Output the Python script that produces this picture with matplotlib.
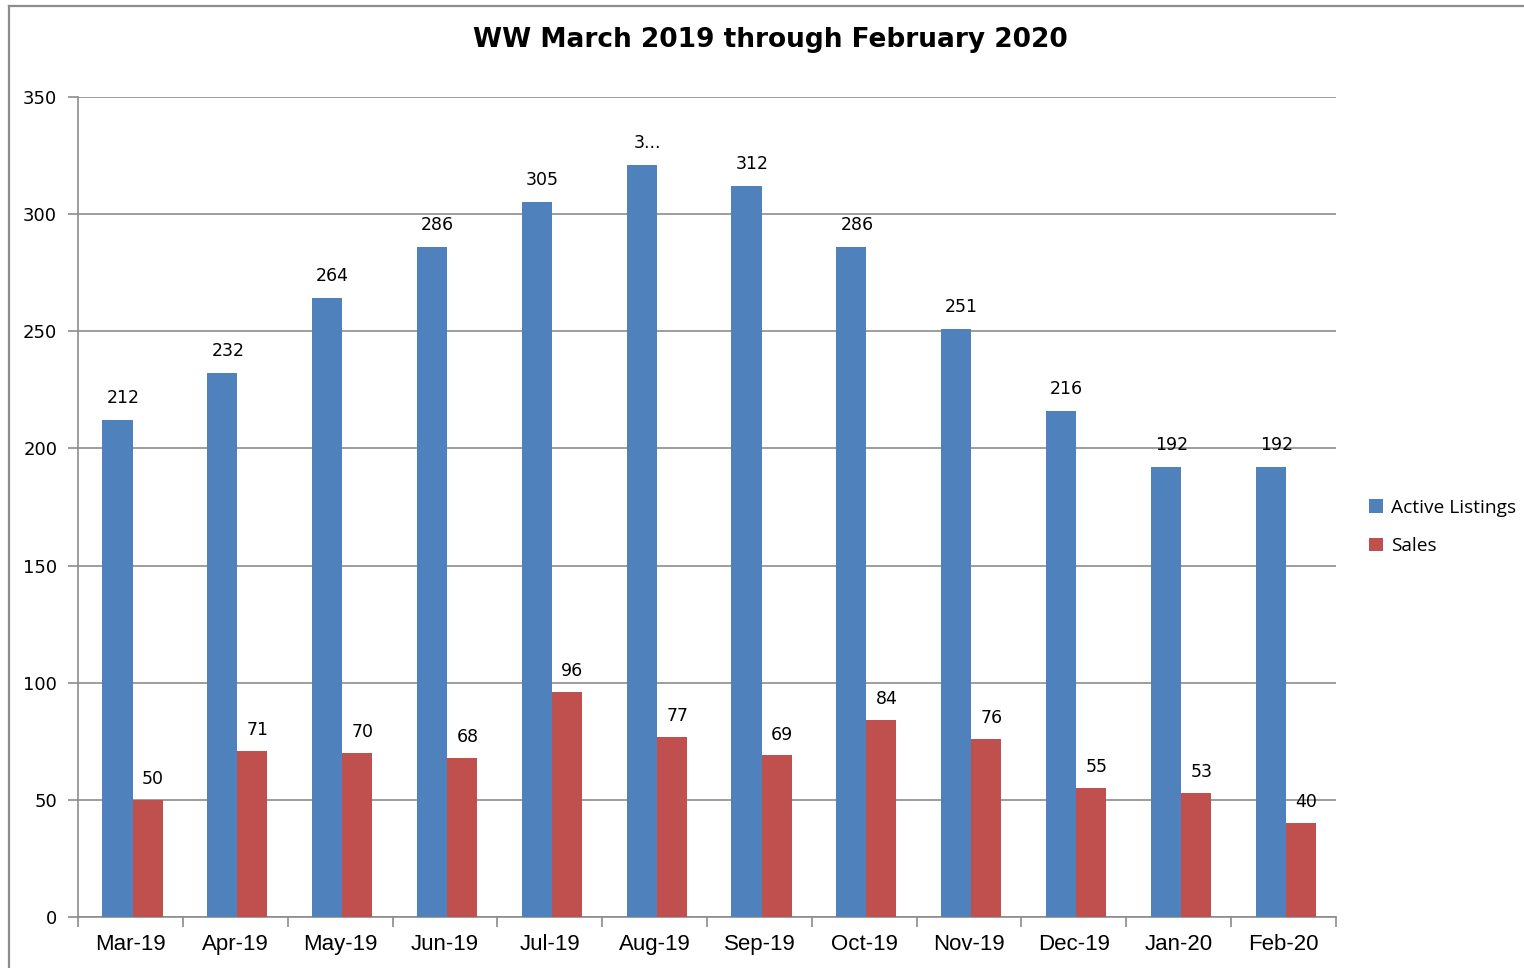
import matplotlib.pyplot as plt
import numpy as np
from matplotlib.lines import Line2D

# Дані
months = ['Mar-19', 'Apr-19', 'May-19', 'Jun-19', 'Jul-19', 'Aug-19',
          'Sep-19', 'Oct-19', 'Nov-19', 'Dec-19', 'Jan-20', 'Feb-20']
active = [212, 232, 264, 286, 305, 321, 312, 286, 251, 216, 192, 192]
sales = [50, 71, 70, 68, 96, 77, 69, 84, 76, 55, 53, 40]
active_labels = ['212', '232', '264', '286', '305', '3...', '312', '286', '251', '216', '192', '192']

blue = '#4F81BD'
red = '#C0504D'
grid_col = '#8C8C8C'

fig = plt.figure(figsize=(15.24, 9.68), dpi=100)
ax = fig.add_axes([78 / 1524, 1 - 917 / 968, (1336 - 78) / 1524, (917 - 97) / 968])

x = np.arange(len(months))
w = 0.287
shift = 0.02
ax.bar(x + shift - w / 2, active, w, color=blue, label='Active Listings', zorder=3)
ax.bar(x + shift + w / 2, sales, w, color=red, label='Sales', zorder=3)

# Підписи значень
for xi, v, lab in zip(x, active, active_labels):
    ax.annotate(lab, (xi + shift - w / 2, v), xytext=(4, 16), textcoords='offset points',
                ha='center', va='center', fontsize=12.5, family='DejaVu Sans')
for xi, v in zip(x, sales):
    ax.annotate(str(v), (xi + shift + w / 2, v), xytext=(4, 15), textcoords='offset points',
                ha='center', va='center', fontsize=12.5, family='DejaVu Sans')

ax.set_xlim(-0.5, len(months) - 0.5)
ax.set_ylim(0, 350)
ax.set_yticks(range(0, 351, 50))
ax.yaxis.grid(True, color=grid_col, linewidth=1.2, zorder=0)
ax.set_axisbelow(True)

ax.set_xticks(x)
ax.set_xticklabels(months, family='Liberation Sans', fontsize=16)
ax.set_xticks(np.arange(-0.5, len(months)), minor=True)
ax.tick_params(axis='x', which='major', length=0, pad=12)
ax.tick_params(axis='x', which='minor', length=7, width=1.2, color=grid_col, direction='out')
ax.tick_params(axis='y', length=7, width=1.2, color=grid_col, labelsize=13, pad=8)
for lab in ax.get_yticklabels():
    lab.set_family('DejaVu Sans')

for s in ['top', 'right']:
    ax.spines[s].set_visible(False)
for s in ['left', 'bottom']:
    ax.spines[s].set_color(grid_col)
    ax.spines[s].set_linewidth(1.2)

fig.text(770 / 1524, 1 - 40 / 968, 'WW March 2019 through February 2020',
         ha='center', va='center', fontsize=19, fontweight='bold', family='DejaVu Sans')

ax.legend(loc='center left', bbox_to_anchor=(1369 / 1524, 1 - 527 / 968),
          bbox_transform=fig.transFigure, frameon=False, borderpad=0, borderaxespad=0,
          handlelength=0.72, handleheight=0.72, handletextpad=0.45, labelspacing=1.05,
          prop={'family': 'Open Sans', 'size': 13.8})

# Рамка діаграми
fig.add_artist(Line2D([9 / 1524, 9 / 1524], [0, 1 - 6 / 968], color=grid_col, linewidth=1.6,
                      transform=fig.transFigure))
fig.add_artist(Line2D([9 / 1524, 1], [1 - 6 / 968, 1 - 6 / 968], color=grid_col, linewidth=1.6,
                      transform=fig.transFigure))

fig.savefig('out.png', dpi=100)
